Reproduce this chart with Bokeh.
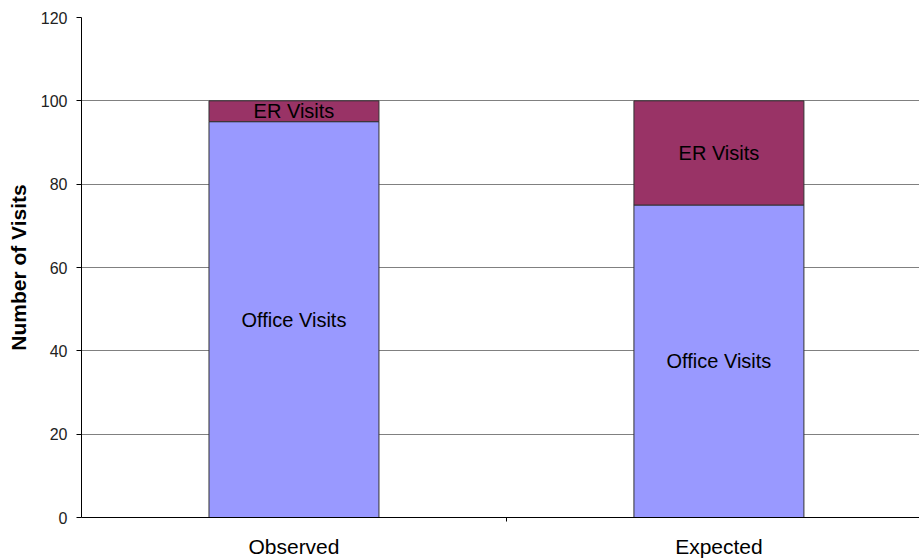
from bokeh.plotting import figure
from bokeh.models import Range1d, FixedTicker, ColumnDataSource
from bokeh.core.properties import value
from bokeh.embed import file_html
from bokeh.resources import INLINE

categories = ["Observed", "Expected"]
office_visits = [95, 75]
er_visits = [5, 25]
y_ticks = [0, 20, 40, 60, 80, 100, 120]
segment_labels = ["Office Visits", "ER Visits"]

FONT = "Liberation Sans"

xs = [i + 0.5 for i in range(len(categories))]
src = ColumnDataSource(dict(x=xs, office=office_visits, er=er_visits))

p = figure(width=919, height=560, output_backend="svg", toolbar_location=None,
           x_range=Range1d(0, 1.972), y_range=Range1d(0, 120),
           min_border_left=81, min_border_right=0, min_border_top=17, min_border_bottom=43)
p.outline_line_color = None
p.background_fill_color = "white"
p.border_fill_color = "white"

p.vbar_stack(["office", "er"], x="x", width=0.4, source=src,
             fill_color=["#9999FF", "#993366"], line_color="#333333", line_width=1)

# segment labels
lab_x = xs + xs
lab_y = [o / 2 for o in office_visits] + [o + e / 2 for o, e in zip(office_visits, er_visits)]
lab_t = [segment_labels[0]] * len(xs) + [segment_labels[1]] * len(xs)
p.text(x=lab_x, y=lab_y, text=lab_t, text_align="center", text_baseline="middle",
       text_font=value(FONT), text_font_size="20px", text_color="black")

# y axis
p.yaxis.ticker = FixedTicker(ticks=y_ticks)
p.yaxis.axis_label = "Number of Visits"
p.yaxis.axis_label_text_font = FONT
p.yaxis.axis_label_text_font_size = "21px"
p.yaxis.axis_label_text_font_style = "bold"
p.yaxis.axis_label_text_color = "black"
p.yaxis.axis_label_standoff = 8
p.yaxis.major_label_text_font = FONT
p.yaxis.major_label_text_font_size = "16px"
p.yaxis.major_label_text_color = "#222222"
p.yaxis.major_tick_out = 5
p.yaxis.major_tick_in = 0
p.yaxis.minor_tick_line_color = None
p.yaxis.major_label_standoff = 9
p.yaxis.axis_line_color = "black"
p.yaxis.major_tick_line_color = "black"

# x axis
p.xaxis.ticker = FixedTicker(ticks=xs, minor_ticks=[1.0])
p.xaxis.major_label_overrides = {x: c for x, c in zip(xs, categories)}
p.xaxis.major_label_text_font = FONT
p.xaxis.major_label_text_font_size = "21px"
p.xaxis.major_label_text_color = "black"
p.xaxis.major_tick_out = 0
p.xaxis.major_tick_in = 0
p.xaxis.minor_tick_out = 4
p.xaxis.minor_tick_in = 0
p.xaxis.minor_tick_line_color = "black"
p.xaxis.major_label_standoff = 13
p.xaxis.axis_line_color = "black"

p.xgrid.grid_line_color = None
p.ygrid.ticker = FixedTicker(ticks=y_ticks)
p.ygrid.grid_line_color = "#808080"
p.ygrid.grid_line_width = 1

open("out.html", "w").write(file_html(p, INLINE))
